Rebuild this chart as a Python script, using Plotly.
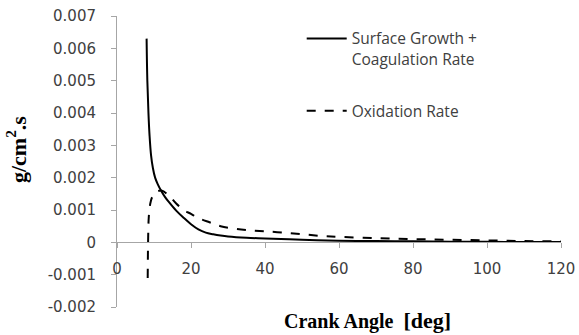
import plotly.graph_objects as go

# Surface growth + coagulation rate (solid)
sg_x = [8.0, 8.2, 8.5, 8.8, 9.2, 9.7, 10.3, 11.0, 12.0, 13.0, 14.0, 16.0, 18.0, 20.0, 22.0, 24.0, 26.0, 28.0, 30.0, 35.0, 40.0, 50.0, 60.0, 70.0, 80.0, 90.0, 100.0, 110.0, 120.0]
sg_y = [0.0063, 0.0050, 0.0040, 0.0033, 0.0027, 0.0023, 0.0020, 0.0018, 0.00158, 0.0014, 0.00125, 0.00098, 0.00076, 0.00056, 0.0004, 0.0003, 0.00025, 0.00021, 0.00018, 0.00014, 0.00012, 0.00008, 0.00005, 0.00004, 0.00003, 0.00002, 0.000015, 0.00001, 0.00001]

# Oxidation rate (dashed)
ox_x = [8.3, 8.4, 8.6, 9.0, 9.5, 10.5, 12.0, 14.0, 16.0, 18.0, 20.0, 22.0, 25.0, 28.0, 32.0, 36.0, 40.0, 45.0, 50.0, 55.0, 60.0, 70.0, 80.0, 90.0, 100.0, 110.0, 120.0]
ox_y = [-0.0011, 0.0, 0.0008, 0.0012, 0.0014, 0.00155, 0.0016, 0.00145, 0.0012, 0.001, 0.00088, 0.00075, 0.00062, 0.0005, 0.00042, 0.00037, 0.00034, 0.0003, 0.00025, 0.0002, 0.00017, 0.00013, 0.0001, 0.00008, 0.00006, 0.00004, 0.00003]

x_ticks = [0, 20, 40, 60, 80, 100, 120]
y_ticks = [-0.002, -0.001, 0, 0.001, 0.002, 0.003, 0.004, 0.005, 0.006, 0.007]
y_tick_text = ["-0.002", "-0.001", "0", "0.001", "0.002", "0.003", "0.004", "0.005", "0.006", "0.007"]

x_title = "<b>Crank Angle  <span style='font-size:22px'>[deg]</span></b>"
y_title = "<b>g/cm<sup>2</sup>.s</b>"

fig = go.Figure()
fig.add_trace(go.Scatter(x=sg_x, y=sg_y, mode="lines", name="Surface Growth +<br>Coagulation Rate",
                         line=dict(color="black", width=2), legendgroup="a", line_shape="spline"))
fig.add_trace(go.Scatter(x=ox_x, y=ox_y, mode="lines", name="Oxidation Rate",
                         line=dict(color="black", width=2, dash="dash"), legendgroup="b", line_shape="spline"))

axis_col = "#a6a6a6"
tick_font = dict(family="DejaVu Sans", size=15, color="#404040")

fig.update_layout(
    width=579, height=335,
    margin=dict(l=117, r=18, t=16, b=28),
    paper_bgcolor="white", plot_bgcolor="white",
    showlegend=True,
    legend=dict(x=0.416, y=0.98, xanchor="left", yanchor="top", bgcolor="rgba(0,0,0,0)",
                valign="top", itemwidth=40,
                font=dict(family="Open Sans", size=15.5, color="#404040"), tracegroupgap=29),
    xaxis=dict(range=[0, 120], tickvals=x_ticks, showgrid=False, zeroline=False,
               showline=True, linecolor=axis_col, linewidth=1, automargin=False,
               ticks="outside", ticklen=5, tickcolor=axis_col, ticklabelstandoff=8,
               anchor="free", position=2/9, tickfont=tick_font),
    yaxis=dict(range=[-0.002, 0.007], tickvals=y_ticks, ticktext=y_tick_text, showgrid=False,
               zeroline=False, showline=True, linecolor=axis_col, linewidth=1, automargin=False,
               ticks="outside", ticklen=5, tickcolor=axis_col, tickfont=tick_font, ticklabelstandoff=12),
    annotations=[
        dict(text=x_title, xref="paper", yref="paper", x=0.565, y=-0.048, xanchor="center", yanchor="middle",
             showarrow=False, font=dict(family="Liberation Serif", size=20, color="black")),
        dict(text=y_title, xref="paper", yref="paper", x=-0.227, y=0.54, xanchor="center", yanchor="middle",
             textangle=-90, showarrow=False, font=dict(family="Liberation Serif", size=22, color="black")),
    ],
)

fig.write_html("out.html", config={"displayModeBar": False},
               post_script="document.body.style.margin='0';")
